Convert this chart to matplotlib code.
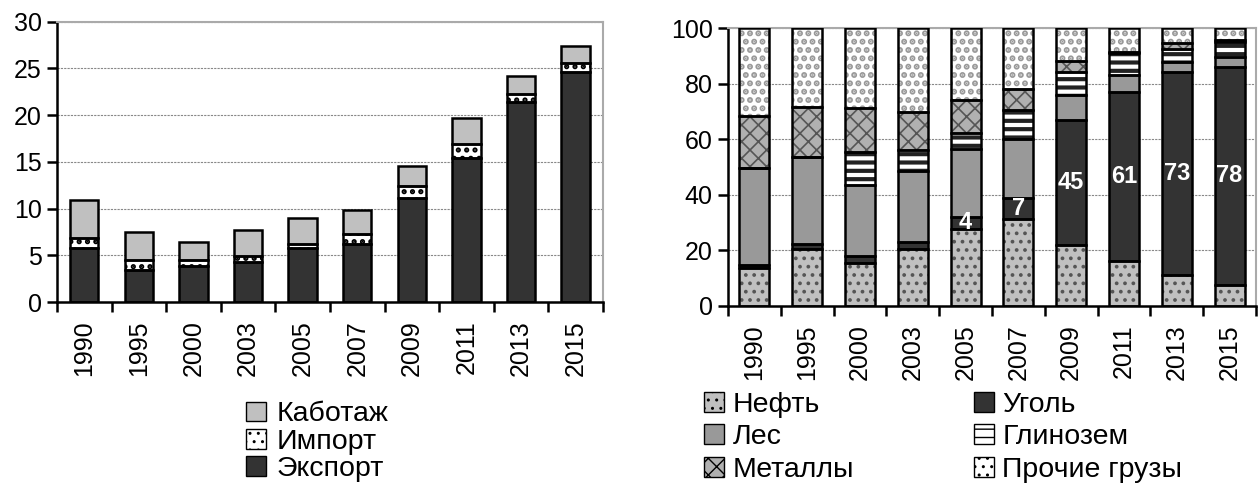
import numpy as np
import matplotlib
matplotlib.use('Agg')
import matplotlib.pyplot as plt
from matplotlib.patches import Patch

plt.rcParams['font.family'] = ['Liberation Sans', 'DejaVu Sans']
plt.rcParams['font.size'] = 18

years = ['1990', '1995', '2000', '2003', '2005', '2007', '2009', '2011', '2013', '2015']

# left chart, mln t
export = [5.8, 3.4, 3.9, 4.3, 5.8, 6.2, 11.1, 15.4, 21.4, 24.6]
imports = [1.0, 1.1, 0.6, 0.6, 0.4, 1.1, 1.3, 1.5, 0.9, 1.0]
cabotage = [4.1, 3.0, 1.9, 2.8, 2.8, 2.6, 2.2, 2.8, 1.9, 1.8]

# right chart, %
oil = [13.7, 20.6, 15.6, 20.6, 27.8, 31.4, 22.0, 16.3, 11.3, 7.7]
coal = [0.9, 1.7, 2.4, 2.4, 4.4, 7.3, 44.8, 60.6, 72.8, 78.3]
timber = [35.0, 31.4, 25.6, 25.7, 24.4, 21.3, 9.0, 6.3, 3.9, 3.7]
alumina = [0.0, 0.0, 11.8, 7.4, 5.8, 10.5, 8.4, 7.7, 4.6, 5.3]
metals = [18.7, 18.0, 15.8, 13.7, 11.7, 7.7, 4.0, 0.7, 2.1, 0.7]
other = [31.7, 28.3, 28.8, 30.2, 25.9, 21.8, 11.8, 8.4, 5.3, 4.3]

LEG_FS = 20.5


def set_hlw(p, hlw):
 try:
  p.set_hatch_linewidth(hlw)
 except AttributeError:
  pass


def hbar(ax, x, h, b, w, fc, hatch, hc, lab, hlw=1.0):
 # hatch layer then black outline on top
 bars = ax.bar(x, h, w, bottom=b, color=fc, edgecolor=hc, hatch=hatch, lw=0, zorder=2)
 for p in bars:
  set_hlw(p, hlw)
 ax.bar(x, h, w, bottom=b, fill=False, edgecolor='black', lw=1.8, zorder=3)
 hnd = Patch(facecolor=fc, edgecolor='black', hatch=hatch, lw=1.0, label=lab)
 set_hlw(hnd, min(hlw, 1.5))
 return hnd


def style_axes(ax, top):
 ax.set_xlim(-0.5, len(years) - 0.5)
 ax.set_ylim(0, top)
 ax.set_xticks(np.arange(len(years)))
 ax.set_xticklabels(years, rotation=90)
 ax.set_xticks(np.arange(len(years) + 1) - 0.5, minor=True)
 ax.tick_params(axis='x', which='major', length=0, pad=13)
 ax.tick_params(axis='x', which='minor', length=7, width=1.8, direction='out')
 ax.tick_params(axis='y', length=7, width=1.8, direction='out', pad=4)
 ax.yaxis.grid(True, color='#888888', ls=(0, (2, 1)), lw=0.8, zorder=0)
 ax.set_axisbelow(True)
 for s in ['left', 'bottom']:
  ax.spines[s].set_linewidth(1.8)
 for s in ['top', 'right']:
  ax.spines[s].set_color('#aaaaaa')
  ax.spines[s].set_linewidth(1.5)


fig = plt.figure(figsize=(12.58, 4.84), dpi=100)

# left chart
ax1 = fig.add_axes([0.0453, 0.376, 0.434, 0.579])
x = np.arange(len(years))
w1 = 0.52
e = np.array(export)
i = np.array(imports)
c = np.array(cabotage)
h_cab = hbar(ax1, x, c, e + i, w1, '#c0c0c0', None, '#c0c0c0', 'Каботаж')
h_imp = hbar(ax1, x, i, e, w1, 'white', '..', 'black', 'Импорт', 2.5)
h_exp = hbar(ax1, x, e, 0, w1, '#333333', None, '#333333', 'Экспорт')
style_axes(ax1, 30)
ax1.set_yticks(range(0, 31, 5))
ax1.legend(handles=[h_cab, h_imp, h_exp], loc='upper left', bbox_to_anchor=(0.347, -0.355),
           frameon=False, handlelength=0.7, handleheight=0.7, handletextpad=0.35,
           labelspacing=0.05, borderaxespad=0, borderpad=0, fontsize=LEG_FS)

# right chart
ax2 = fig.add_axes([0.5787, 0.3678, 0.4197, 0.574])
w2 = 0.57
series = [
 (oil, '#c0c0c0', '..', '#555555', 'Нефть', 1.5),
 (coal, '#333333', None, '#333333', 'Уголь', 1.0),
 (timber, '#999999', None, '#999999', 'Лес', 1.0),
 (alumina, 'white', '--', '#222222', 'Глинозем', 3.0),
 (metals, '#b0b0b0', 'xx', '#555555', 'Металлы', 1.2),
 (other, 'white', '..', '#999999', 'Прочие грузы', 3.0),
]
bottom = np.zeros(len(years))
handles = []
for vals, fc, hatch, hc, lab, hlw in series:
 v = np.array(vals)
 handles.append(hbar(ax2, x, v, bottom, w2, fc, hatch, hc, lab, hlw))
 if lab == 'Уголь':
  for xi, b, vi in zip(x, bottom, v):
   if vi >= 3:
    ax2.text(xi, b + vi / 2, f'{vi:.0f}', color='white', fontweight='bold',
             ha='center', va='center', fontsize=17, zorder=4)
 bottom = bottom + v
style_axes(ax2, 100)
ax2.set_yticks(range(0, 101, 20))
# two columns: Нефть/Лес/Металлы | Уголь/Глинозем/Прочие
order = [0, 2, 4, 1, 3, 5]
ax2.legend(handles=[handles[k] for k in order], ncol=2, loc='upper left',
           bbox_to_anchor=(-0.045, -0.31), frameon=False, handlelength=0.7,
           handleheight=0.7, handletextpad=0.3, labelspacing=0.22,
           columnspacing=4.2, borderaxespad=0, borderpad=0, fontsize=LEG_FS)

fig.savefig('out.png', dpi=100)
